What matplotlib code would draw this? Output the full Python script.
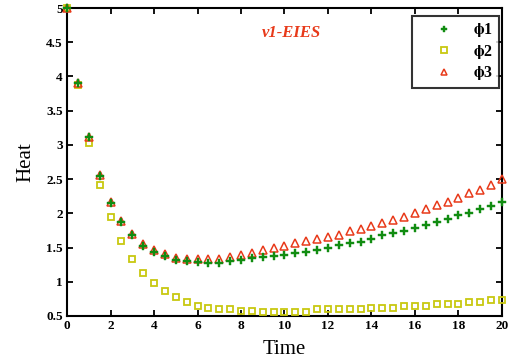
import numpy as np
import matplotlib
matplotlib.use("Agg")
import matplotlib.pyplot as plt

time = [0, 0.5, 1, 1.5, 2, 2.5, 3, 3.5, 4, 4.5, 5, 5.5, 6, 6.5, 7, 7.5, 8, 8.5, 9, 9.5,
        10, 10.5, 11, 11.5, 12, 12.5, 13, 13.5, 14, 14.5, 15, 15.5, 16, 16.5, 17, 17.5,
        18, 18.5, 19, 19.5, 20]

phi1 = [5.0, 3.9, 3.11, 2.54, 2.15, 1.87, 1.68, 1.52, 1.43, 1.37, 1.32, 1.30, 1.29, 1.28,
        1.28, 1.30, 1.32, 1.34, 1.355, 1.375, 1.39, 1.415, 1.44, 1.46, 1.50, 1.535, 1.56,
        1.585, 1.63, 1.68, 1.705, 1.745, 1.79, 1.83, 1.875, 1.91, 1.97, 2.01, 2.06, 2.10, 2.16]

phi2 = [5.0, 3.88, 3.03, 2.42, 1.95, 1.60, 1.33, 1.13, 0.98, 0.86, 0.78, 0.71, 0.65, 0.62,
        0.60, 0.60, 0.57, 0.57, 0.56, 0.56, 0.56, 0.56, 0.56, 0.60, 0.60, 0.60, 0.60, 0.60,
        0.62, 0.62, 0.62, 0.65, 0.65, 0.65, 0.68, 0.67, 0.67, 0.71, 0.71, 0.74, 0.74]

phi3 = [5.0, 3.9, 3.12, 2.56, 2.17, 1.89, 1.70, 1.55, 1.46, 1.40, 1.35, 1.33, 1.33, 1.33,
        1.33, 1.36, 1.39, 1.42, 1.46, 1.49, 1.52, 1.56, 1.59, 1.63, 1.66, 1.69, 1.74, 1.765,
        1.81, 1.86, 1.90, 1.95, 2.01, 2.07, 2.12, 2.17, 2.23, 2.29, 2.34, 2.41, 2.50]

labels = [r"$\mathbf{\phi}$1", r"$\mathbf{\phi}$2", r"$\mathbf{\phi}$3"]
xticks = [0, 2, 4, 6, 8, 10, 12, 14, 16, 18, 20]
yticks = [0.5, 1, 1.5, 2, 2.5, 3, 3.5, 4, 4.5, 5]
ytick_labels = ["0.5", "1", "1.5", "2", "2.5", "3", "3.5", "4", "4.5", "5"]

plt.rcParams['font.family'] = ['Liberation Serif', 'DejaVu Serif']
plt.rcParams['mathtext.fontset'] = 'stix'

fig = plt.figure(figsize=(5.08, 3.64), dpi=100)
ax = fig.add_axes([0.132, 0.132, 0.856, 0.846])

green = '#118c11'
yellow = '#c8c810'
red = '#e83a1a'

h2, = ax.plot(time, phi2, linestyle='none', marker='s', markersize=5, markerfacecolor='none',
              markeredgecolor=yellow, markeredgewidth=1.3, clip_on=False, zorder=3)
h3, = ax.plot(time, phi3, linestyle='none', marker='^', markersize=6.2, markerfacecolor='none',
              markeredgecolor=red, markeredgewidth=1.1, clip_on=False, zorder=4)
h1, = ax.plot(time, phi1, linestyle='none', marker='P', markersize=6, markerfacecolor=green,
              markeredgecolor=green, markeredgewidth=0.3, clip_on=False, zorder=5)

ax.set_xlim(0, 20)
ax.set_ylim(0.5, 5)
ax.set_xticks(xticks)
ax.set_xticklabels([str(t) for t in xticks], fontweight='bold', fontsize=9.5)
ax.set_yticks(yticks)
ax.set_yticklabels(ytick_labels, fontweight='bold', fontsize=9.5)
ax.tick_params(direction='in', top=True, right=True, length=4, width=1.3, pad=3)
for s in ax.spines.values():
    s.set_linewidth(1.5)

ax.set_xlabel('Time', fontsize=15, labelpad=6)
ax.set_ylabel('Heat', fontsize=15, labelpad=8)

ax.text(10.3, 4.64, 'v1-EIES', color=red, fontsize=12,
        fontweight='bold', style='italic', ha='center', va='center')

leg = ax.legend([h1, h2, h3], labels, loc='upper right', bbox_to_anchor=(0.993, 0.975),
                frameon=True, fancybox=False, edgecolor='black', borderpad=0.35,
                handletextpad=0.2, labelspacing=0.22, markerscale=0.8, borderaxespad=0,
                handlelength=3.3, prop={'weight': 'bold', 'size': 11.5})
leg.get_frame().set_linewidth(1.5)

fig.savefig('out.png', dpi=100)
